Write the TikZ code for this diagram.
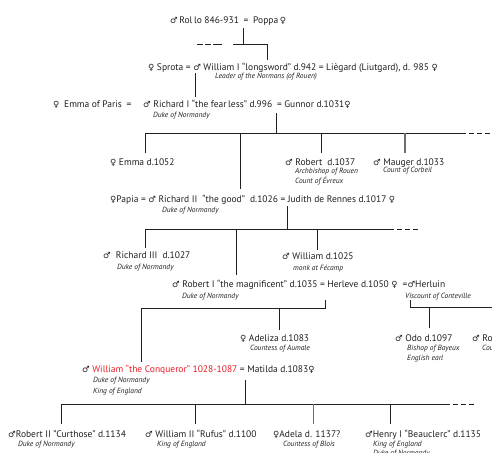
\documentclass[tikz,border=0pt]{standalone}
\usepackage{fontspec}
\setmainfont{PT Sans}
\newfontfamily\symfont{DejaVu Sans}
\definecolor{ink}{HTML}{231F20}
\definecolor{conq}{HTML}{ED1C24}
\definecolor{lgray}{HTML}{6D6E71}
\newcommand{\Msym}{{\symfont\fontsize{8.5}{9}\selectfont\char"2642}}
\newcommand{\Fsym}{{\symfont\fontsize{8.5}{9}\selectfont\char"2640}}
\newcommand{\mainsz}{\fontsize{9.5}{11}\selectfont}
\newcommand{\subsz}{\fontsize{7.5}{9}\selectfont\itshape}
\tikzset{
  person/.style={anchor=base west, inner sep=0pt, font=\mainsz, text=ink},
  title/.style={anchor=base west, inner sep=0pt, font=\subsz, text=ink},
  link/.style={draw=ink, line width=1pt},
  glink/.style={draw=lgray, line width=1.2pt},
  more/.style={draw=ink, line width=1pt, dash pattern=on 13pt off 3pt on 5pt off 3pt on 5pt off 3pt on 5pt off 20pt},
}
\begin{document}
\begin{tikzpicture}[x=1pt,y=-1pt]
\useasboundingbox (0,0) rectangle (492,452);
\clip (0,0) rectangle (492,452);
\fill[white] (0,0) rectangle (492,452);

% ---------- generation 0
\node[person] (rollo) at (170,23.3) {\Msym\,Rol\,lo 846-931\enspace=\enspace Poppa\,\Fsym};
% ---------- generation 1
\node[person] (william1) at (148,70.8) {\Fsym\ Sprota = \Msym\ William I “longsword” d.942 = Liègard (Liutgard), d. 985 \Fsym};
\node[title] (william1t) at (215,78.1) {Leader of the Normans (of Rouen)};
% ---------- generation 2
\node[person] (emmaparis) at (53,107.3) {\Fsym\enspace Emma of Paris\enspace=};
\node[person] (richard1) at (143,107.3) {\Msym\ Richard I “the fear\,less” d.996\enspace=\ Gunnor d.1031\Fsym};
\node[title] (richard1t) at (153,117.1) {Duke of Normandy};
% ---------- generation 3
\node[person] (emma) at (110,165.3) {\Fsym\ Emma d.1052};
\node[person] (robert) at (285,165.3) {\Msym\ Robert\ \ d.1037};
\node[title] (robertt) at (295,173.6) {Archbishop of Rouen};
\node[title] (roberttt) at (295,183.6) {Count of Évreux};
\node[person] (mauger) at (373,165.3) {\Msym\ Mauger d.1033};
\node[title] (maugert) at (383,172.6) {Count of Corbeil};
\node[person] (richard2) at (110,202.3) {\Fsym Papia = \Msym\ Richard II\ \ “the good”\ \ d.1026 =\ Judith de Rennes d.1017 \Fsym};
\node[title] (richard2t) at (162,212.1) {Duke of Normandy};
% ---------- generation 4
\node[person] (richard3) at (103,258.8) {\Msym\ \ Richard III\ \ d.1027};
\node[title] (richard3t) at (117,269.1) {Duke of Normandy};
\node[person] (williammonk) at (282,259.8) {\Msym\ William d.1025};
\node[title] (williammonkt) at (293,270.1) {monk at Fécamp};
\node[person] (robert1) at (172,287.6) {\Msym\ Robert I “the magnificent” d.1035 = Herleve d.1050 \Fsym\ \ =\Msym Herluin};
\node[title] (robert1t) at (182,298.6) {Duke of Normandy};
\node[title] (herluint) at (405,298.6) {Viscount of Conteville};
% ---------- generation 5
\node[person] (adeliza) at (240,341.8) {\Fsym\ Adeliza d.1083};
\node[title] (adelizat) at (250,350.6) {Countess of Aumale};
\node[person] (odo) at (395,341.8) {\Msym\ Odo d.1097};
\node[title] (odot) at (407,350.6) {Bishop of Bayeux};
\node[title] (odott) at (407,360.1) {English earl};
\node[person] (robmort) at (472,341.8) {\Msym\ Robert};
\node[title] (robmortt) at (482,350.6) {Count of Mortain};
\node[person] (conqueror) at (82,372.8) {\Msym\ \textcolor{conq}{William “the Conqueror” 1028-1087} = Matilda d.1083\Fsym};
\node[title] (conquerort) at (93,382.6) {Duke of Normandy};
\node[title] (conquerortt) at (93,393.1) {King of England};
% ---------- generation 6
\node[person] (robert2) at (8,437.8) {\Msym Robert II "Curthose" d.1134};
\node[title] (robert2t) at (18,446.1) {Duke of Normandy};
\node[person] (william2) at (145,437.8) {\Msym\ William II “Rufus” d.1100};
\node[title] (william2t) at (157,446.1) {King of England};
\node[person] (adela) at (273,437.8) {\Fsym Adela d. 1137?};
\node[title] (adelat) at (283,446.1) {Countess of Blois};
\node[person] (henry) at (365,437.8) {\Msym Henry I “Beauclerc” d.1135};
\node[title] (henryt) at (373,446.1) {King of England};
\node[title] (henrytt) at (373,455.6) {Duke of Normandy};

% ---------- junction coordinates
\coordinate (m0) at (243,28);
\coordinate (b0) at (243,45);
\coordinate (b0r) at (267,45);
\coordinate (b0l) at (233,45);
\coordinate (c0) at (267,60);
\coordinate (m1) at (195,73);
\coordinate (c1) at (195,97);
\coordinate (m2) at (276,113);
\coordinate (b2) at (276,133);
\coordinate (b2l) at (145.5,133);
\coordinate (b2r) at (453,133);
\coordinate (m3) at (287,206);
\coordinate (b3) at (287,229);
\coordinate (b3l) at (145.5,229);
\coordinate (b3r) at (381,229);
\coordinate (m4) at (325,300);
\coordinate (b4) at (325,308);
\coordinate (b4l) at (141,308);
\coordinate (m4h) at (410.7,300);
\coordinate (b4h) at (410.7,307.5);
\coordinate (b4hr) at (492,307.5);
\coordinate (m5) at (245,380);
\coordinate (b5) at (245,404);
\coordinate (b5l) at (61,404);
\coordinate (b5r) at (437,404);

% ---------- lines
\draw[link] (m0) -- (b0) -- (b0r) -- (c0);
\draw[link] (b0) -- (b0l);
\draw[link, dash pattern=on 6pt off 2pt on 6pt off 2pt on 10pt off 20pt] (197,45) -- (222,45);
\draw[link] (m1) -- (c1);

\draw[link] (m2) -- (b2);
\draw[link] (b2l) -- (b2r);
\draw[more] (b2r) -- ++(39,0);
\draw[link] (b2l) -- (145.5,153);
\draw[link] (240,133) -- (240,189);
\draw[link] (321,133) -- (321,153);
\draw[glink] (405,133) -- (405,153);

\draw[link] (m3) -- (b3);
\draw[link] (b3l) -- (b3r);
\draw[more] (b3r) -- ++(39,0);
\draw[link] (b3l) -- (145.5,248);
\draw[link] (236.7,229) -- (236.7,275);
\draw[link] (317.3,229) -- (317.3,250);

\draw[link] (m4) -- (b4) -- (b4l) -- (141,362);
\draw[link] (279.3,308) -- (279.3,330);
\draw[link] (m4h) -- (b4h) -- (b4hr);
\draw[link] (429.3,307.5) -- (429.3,328);

\draw[link] (m5) -- (b5);
\draw[link] (b5l) -- (b5r);
\draw[more] (b5r) -- ++(40,0);
\draw[link] (b5l) -- (61,424);
\draw[link] (195.3,404) -- (195.3,424);
\draw[glink] (313.3,404) -- (313.3,424);
\draw[link] (390,404) -- (390,424);
\end{tikzpicture}
\end{document}
